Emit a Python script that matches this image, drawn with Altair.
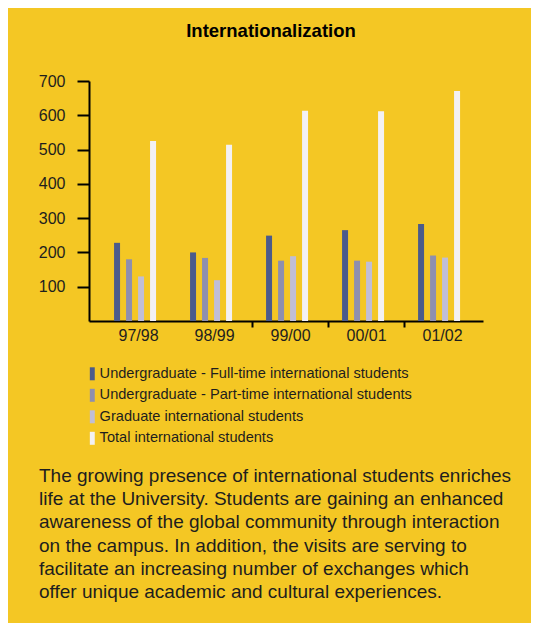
import altair as alt
import pandas as pd

years = ["97/98", "98/99", "99/00", "00/01", "01/02"]
series = [
    "Undergraduate - Full-time international students",
    "Undergraduate - Part-time international students",
    "Graduate international students",
    "Total international students",
]
full_time = [228, 200, 249, 265, 283]
part_time = [180, 184, 176, 176, 191]
graduate = [130, 119, 189, 173, 185]
total = [525, 514, 613, 612, 671]
colors = ["#4b5b8b", "#8e8fae", "#c0bed6", "#f3f1f3"]
y_ticks = [100, 200, 300, 400, 500, 600, 700]

title_text = "Internationalization"
paragraph = [
    "The growing presence of international students enriches",
    "life at the University. Students are gaining an enhanced",
    "awareness of the global community through interaction",
    "on the campus. In addition, the visits are serving to",
    "facilitate an increasing number of exchanges which",
    "offer unique academic and cultural experiences.",
]

rows = []
for vals, s in zip([full_time, part_time, graduate, total], series):
    for y, v in zip(years, vals):
        rows.append({"year": y, "series": s, "value": v})
df = pd.DataFrame(rows)

FONT = "Liberation Sans"
TXT = "#1e1e1e"
BG = "#f4c724"

sym = "M-0.38,-1H0.38V1H-0.38Z"

bars = alt.Chart(df).mark_bar(opacity=1).encode(
    x=alt.X(
        "year:N",
        sort=years,
        scale=alt.Scale(paddingInner=0, paddingOuter=0.092, align=0.79),
        axis=alt.Axis(
            title=None, labelAngle=0, labelFontSize=16, labelColor=TXT, labelFont=FONT,
            domainColor="black", domainWidth=2, tickColor="black",
            tickOpacity={"condition": {"test": "datum.index <= 0 || datum.index >= 1",
                                       "value": 0},
                         "value": 1},
            tickWidth=2, tickSize=6, tickBand="extent", labelPadding=0,
        ),
    ),
    xOffset=alt.XOffset(
        "series:N", sort=series,
        scale=alt.Scale(range=[11, 59], paddingInner=0.5, paddingOuter=0.25),
    ),
    y=alt.Y(
        "value:Q",
        scale=alt.Scale(domain=[0, 700], nice=False),
        axis=alt.Axis(
            title=None, values=y_ticks, grid=False, labelFontSize=16, labelColor=TXT,
            labelFont=FONT, domainColor="black", domainWidth=2, tickColor="black",
            tickWidth=2, tickSize=12, labelPadding=12,
        ),
    ),
    color=alt.Color(
        "series:N",
        sort=series,
        scale=alt.Scale(domain=series, range=colors),
        legend=alt.Legend(
            orient="none", legendX=-4, legendY=285.5, title=None, symbolType=sym,
            symbolSize=169, symbolStrokeWidth=0, symbolOpacity=1, labelFontSize=14.6,
            labelFont=FONT, labelColor=TXT, rowPadding=6.5, labelOffset=0, labelLimit=500,
        ),
    ),
)

title_layer = alt.Chart(pd.DataFrame({"t": [0]})).mark_text(
    font=FONT, fontSize=18.5, fontWeight="bold", color="black", align="center",
    baseline="alphabetic"
).encode(x=alt.value(182), y=alt.value(-43.7), text=alt.value(title_text))

para_layer = alt.Chart(pd.DataFrame({"t": [0]})).mark_text(
    font=FONT, fontSize=19, color=TXT, align="left", baseline="alphabetic", lineHeight=23.3
).encode(x=alt.value(-50), y=alt.value(400.7), text=alt.value(paragraph))

chart = alt.layer(bars, title_layer, para_layer).properties(
    width=394, height=240, padding={"left": 81, "top": 73, "right": 48, "bottom": 302},
    autosize=alt.AutoSizeParams(type="none"), background=BG,
).configure_view(stroke=None)

chart.save("out.html", embed_options={"renderer": "svg", "actions": False})
